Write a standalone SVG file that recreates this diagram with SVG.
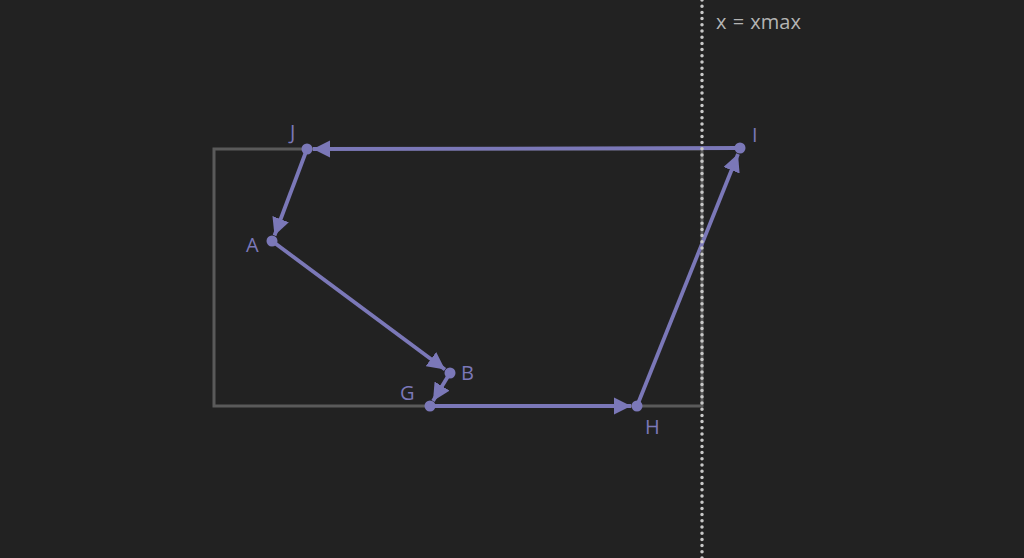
<svg xmlns="http://www.w3.org/2000/svg" width="1024" height="558" viewBox="0 0 1024 558">
<style>
.lbl{font-family:"Open Sans","Noto Sans",sans-serif;font-size:20px;fill:#7b78b8}
.edge{stroke:#7b78b8;stroke-width:3.8;fill:none}
.pt{fill:#7b78b8}
</style>
<defs>
<marker id="ah" viewBox="0 0 10 10" refX="10" refY="5" markerWidth="4.6" markerHeight="4.6" markerUnits="strokeWidth" orient="auto">
<path d="M0,0 L10,5 L0,10 z" fill="#7b78b8"/>
</marker>
</defs>
<rect width="1024" height="558" fill="#222222"/>
<g id="bounds">
<rect x="214" y="149" width="488" height="257" fill="none" stroke="#5a5a5a" stroke-width="3"/>
</g>
<g id="connectors">
<line class="edge" x1="740" y1="148" x2="313" y2="149" marker-end="url(#ah)"/>
<line class="edge" x1="307" y1="149" x2="274.5" y2="235.5" marker-end="url(#ah)"/>
<line class="edge" x1="272" y1="241" x2="445" y2="369.5" marker-end="url(#ah)"/>
<line class="edge" x1="450" y1="373" x2="433" y2="401" marker-end="url(#ah)"/>
<line class="edge" x1="430" y1="406" x2="631" y2="406" marker-end="url(#ah)"/>
<line class="edge" x1="637" y1="406" x2="738" y2="154" marker-end="url(#ah)"/>
</g>
<g id="xmax-line">
<line x1="702" y1="0" x2="702" y2="558" stroke="#c8c8c8" stroke-width="3.5" stroke-linecap="round" stroke-dasharray="0 6.2"/>
<text x="716" y="29" font-family="'Open Sans','Noto Sans',sans-serif" font-size="20" word-spacing="1" fill="#b4b4b4">x = xmax</text>
</g>
<g id="node-J"><circle class="pt" cx="307" cy="149" r="5.5"/><text class="lbl" x="290" y="139">J</text></g>
<g id="node-I"><circle class="pt" cx="740" cy="148" r="5.5"/><text class="lbl" x="752" y="142">I</text></g>
<g id="node-A"><circle class="pt" cx="272" cy="241" r="5.5"/><text class="lbl" x="246" y="252">A</text></g>
<g id="node-B"><circle class="pt" cx="450" cy="373" r="5.5"/><text class="lbl" x="461" y="380">B</text></g>
<g id="node-G"><circle class="pt" cx="430" cy="406" r="5.5"/><text class="lbl" x="400" y="400">G</text></g>
<g id="node-H"><circle class="pt" cx="637" cy="406" r="5.5"/><text class="lbl" x="645" y="434">H</text></g>
</svg>
